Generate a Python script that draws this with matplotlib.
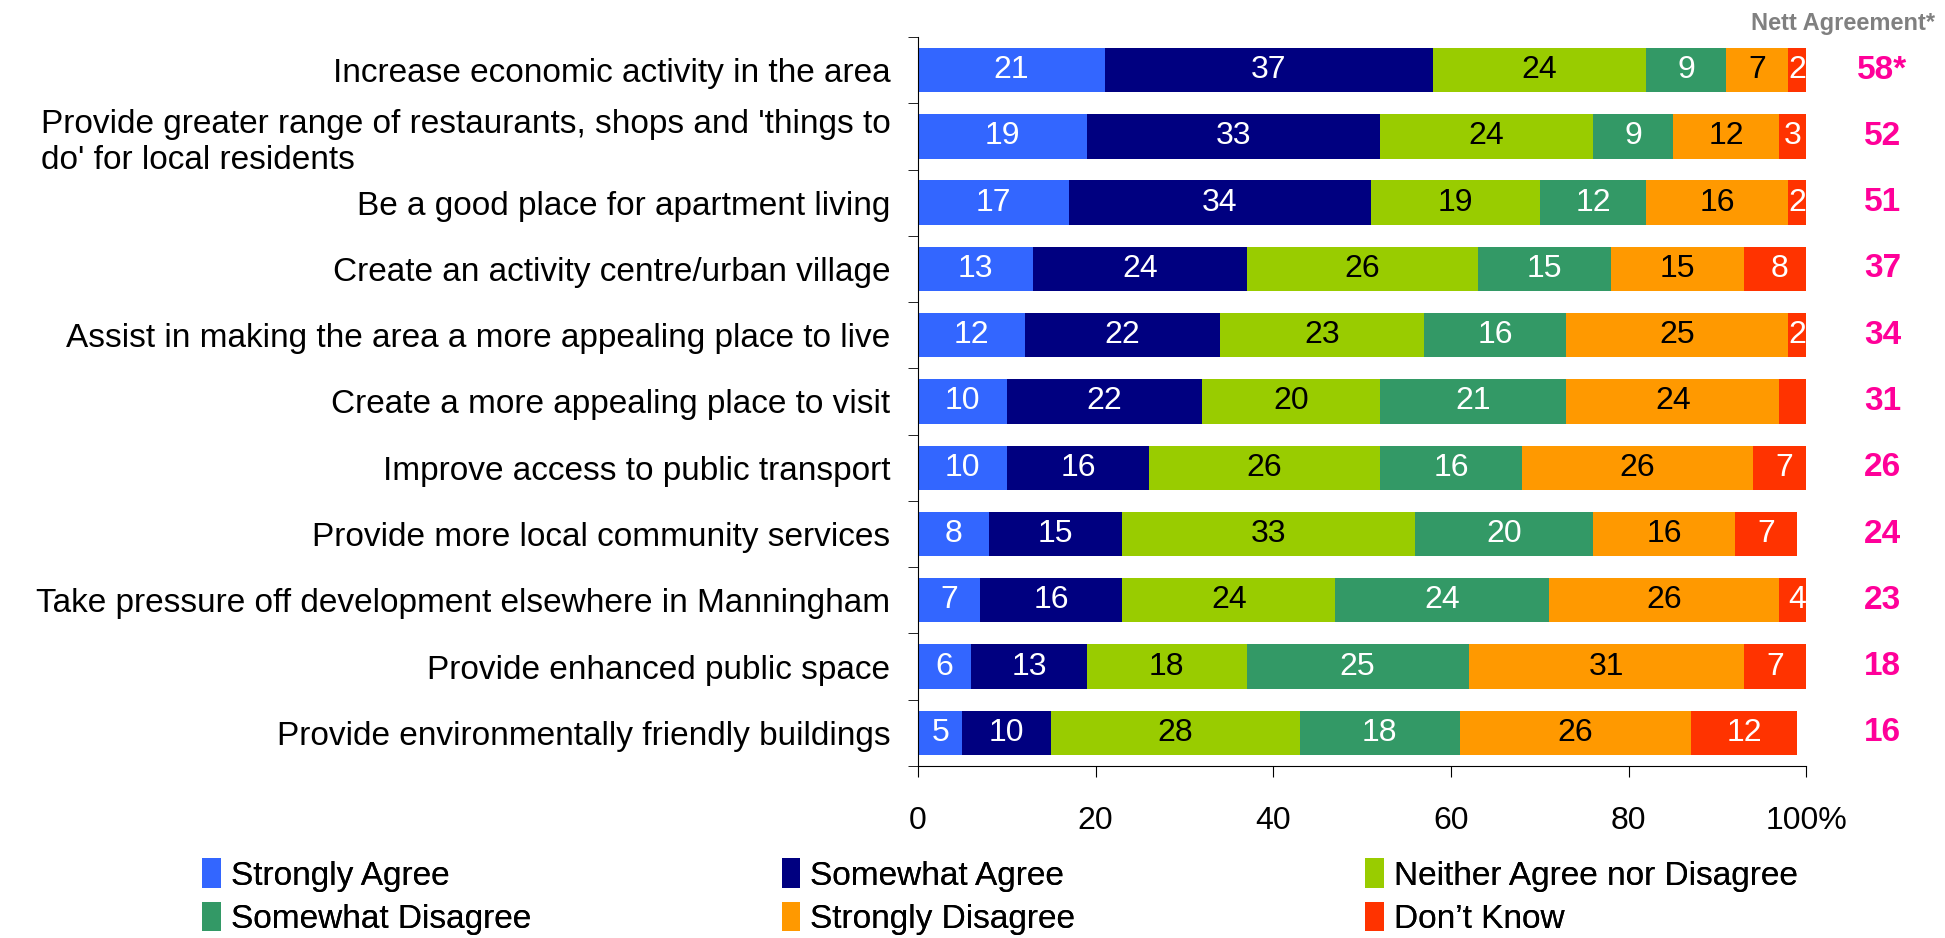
import numpy as np
import matplotlib
matplotlib.use('Agg')
import matplotlib.pyplot as plt
from matplotlib.patches import Patch

plt.rcParams['font.family'] = ['Liberation Sans', 'DejaVu Sans']

categories = [
    "Increase economic activity in the area",
    "Provide greater range of restaurants, shops and 'things to\ndo' for local residents",
    "Be a good place for apartment living",
    "Create an activity centre/urban village",
    "Assist in making the area a more appealing place to live",
    "Create a more appealing place to visit",
    "Improve access to public transport",
    "Provide more local community services",
    "Take pressure off development elsewhere in Manningham",
    "Provide enhanced public space",
    "Provide environmentally friendly buildings",
]
series = ["Strongly Agree", "Somewhat Agree", "Neither Agree nor Disagree",
          "Somewhat Disagree", "Strongly Disagree", "Don\u2019t Know"]
strongly_agree = [21, 19, 17, 13, 12, 10, 10, 8, 7, 6, 5]
somewhat_agree = [37, 33, 34, 24, 22, 22, 16, 15, 16, 13, 10]
neither = [24, 24, 19, 26, 23, 20, 26, 33, 24, 18, 28]
somewhat_disagree = [9, 9, 12, 15, 16, 21, 16, 20, 24, 25, 18]
strongly_disagree = [7, 12, 16, 15, 25, 24, 26, 16, 26, 31, 26]
dont_know = [2, 3, 2, 8, 2, 3, 7, 7, 4, 7, 12]
# the small "Don't Know" piece on the "visit" row carries no label in the original
dont_know_labels = ['2', '3', '2', '8', '2', '', '7', '7', '4', '7', '12']
nett = ['58*', '52', '51', '37', '34', '31', '26', '24', '23', '18', '16']

colors = ['#3366FF', '#000080', '#99CC00', '#339966', '#FF9900', '#FF3300']
text_colors = ['white', 'white', 'black', 'white', 'black', 'white']

data = [strongly_agree, somewhat_agree, neither, somewhat_disagree,
        strongly_disagree, dont_know]

fig = plt.figure(figsize=(19.45, 9.38), dpi=100)
ax = fig.add_axes([0.472, 0.1834, 0.4566, 0.7772])

y = np.arange(len(categories))
left = np.zeros(len(categories))
for i, vals in enumerate(data):
    vals = np.array(vals, dtype=float)
    ax.barh(y, vals, left=left, height=0.67, color=colors[i], label=series[i])
    labels = dont_know_labels if i == 5 else [str(v) for v in data[i]]
    for j, v in enumerate(vals):
        if labels[j]:
            ax.text(left[j] + v / 2, y[j], labels[j], ha='center', va='center',
                    color=text_colors[i], fontsize=23)
    left += vals

for j, n in enumerate(nett):
    ax.text(108.6, y[j], n, ha='center', va='center', color='#FF0099',
            fontsize=24, fontweight='bold', clip_on=False)

fig.text(0.995, 0.975, 'Nett Agreement*', ha='right', va='center',
         color='#808080', fontsize=17, fontweight='bold')

ax.set_ylim(len(categories) - 0.5, -0.5)
ax.set_xlim(0, 100)
ax.set_yticks(y)
ax.set_yticklabels(categories, fontsize=24)
for lab in ax.get_yticklabels():
    lab.set_multialignment('left')
ax.set_yticks(np.arange(len(categories) + 1) - 0.5, minor=True)
ax.tick_params(axis='y', which='major', length=0, pad=20)
ax.tick_params(axis='y', which='minor', length=7, direction='out')
ax.set_xticks([0, 20, 40, 60, 80, 100])
ax.set_xticklabels(['0', '20', '40', '60', '80', '100%'], fontsize=23)
ax.tick_params(axis='x', length=8, pad=21)
ax.spines['top'].set_visible(False)
ax.spines['right'].set_visible(False)

# legend: three columns, filled row by row
handles = [Patch(facecolor=c, edgecolor='none') for c in colors]
col_x = [0.104, 0.402, 0.702]
for k in range(3):
    leg = fig.legend([handles[k], handles[k + 3]], [series[k], series[k + 3]],
                     loc='upper left', bbox_to_anchor=(col_x[k], 0.085),
                     frameon=False, fontsize=24, handlelength=0.55,
                     handleheight=1.0, handletextpad=0.3,
                     labelspacing=0.3, borderpad=0, borderaxespad=0)
    fig.add_artist(leg)

plt.savefig('out.png', dpi=100)
